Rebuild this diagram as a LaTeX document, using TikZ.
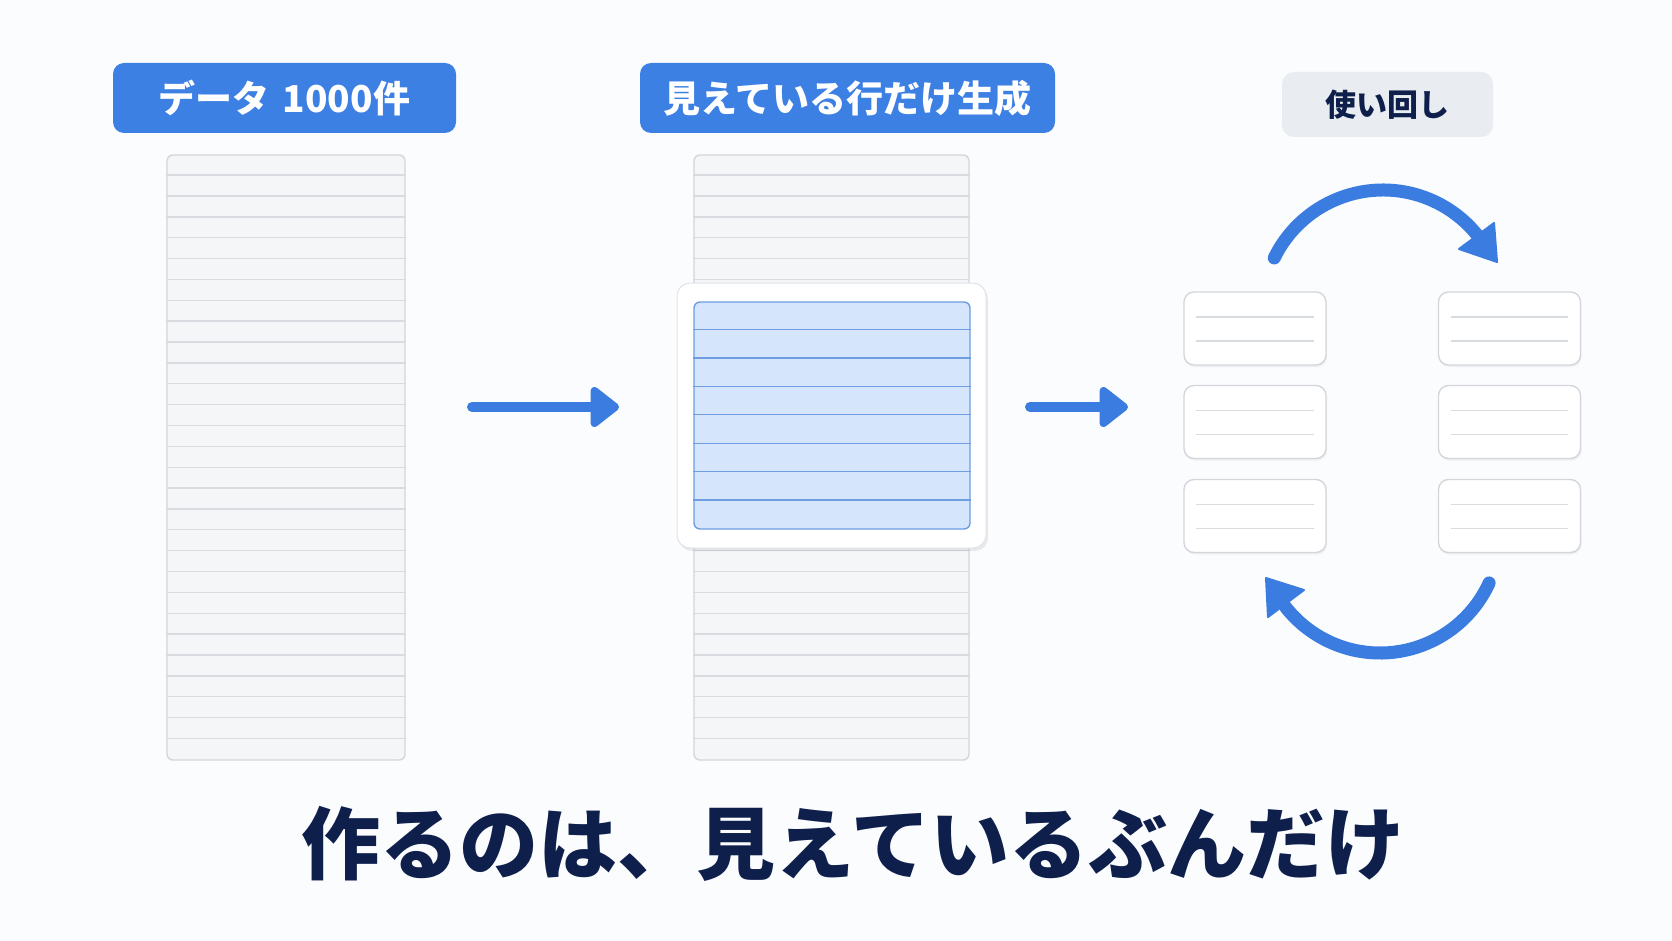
\documentclass[tikz,border=0pt]{standalone}
\usepackage{fontspec}
\setmainfont{Noto Sans CJK JP}
\newfontfamily\titlefont{Noto Sans CJK JP Black}
\usetikzlibrary{arrows.meta,shadows}
\definecolor{bgc}{HTML}{FBFCFD}
\definecolor{labelblue}{HTML}{3D80E4}
\definecolor{arrowblue}{HTML}{3A7CE0}
\definecolor{navy}{HTML}{0E1F4C}
\definecolor{listfill}{HTML}{F5F6F7}
\definecolor{listline}{HTML}{D8DBDF}
\definecolor{cardline}{HTML}{D3D6DB}
\definecolor{vpfill}{HTML}{D5E6FC}
\definecolor{vpline}{HTML}{6E9DE2}
\definecolor{greylabel}{HTML}{E9ECF0}
\tikzset{
  bluelabel/.style={fill=labelblue, rounded corners=11pt, inner sep=0pt, text=white,
    font=\bfseries\fontsize{37}{40}\selectfont, minimum height=70pt},
  greylab/.style={fill=greylabel, rounded corners=12pt, inner sep=0pt, text=navy,
    font=\bfseries\fontsize{31}{34}\selectfont, minimum height=65pt, minimum width=211pt},
  listbox/.style={draw=cardline, line width=1.4pt, fill=listfill, rounded corners=6pt, inner sep=0pt},
  rowline/.style={draw=listline, line width=1.4pt},
  vpcard/.style={draw=cardline!70, line width=1pt, fill=white, rounded corners=13pt, inner sep=0pt,
    drop shadow={shadow xshift=2pt, shadow yshift=-3pt, opacity=0.12, fill=black!60}},
  vpbox/.style={draw=vpline, line width=1.4pt, fill=vpfill, rounded corners=6pt, inner sep=0pt},
  vprow/.style={draw=vpline, line width=1.3pt},
  smallcard/.style={draw=cardline, line width=1.4pt, fill=white, rounded corners=10pt, inner sep=0pt,
    minimum width=142pt, minimum height=73pt,
    drop shadow={shadow xshift=1pt, shadow yshift=-2pt, opacity=0.08, fill=black!60}},
  straightarrow/.style={draw=arrowblue, line width=10pt, line cap=round,
    -{Triangle[length=31pt, width=46pt, round]}},
  curvearrow/.style={draw=arrowblue, line width=13pt, line cap=round},
  curvehead/.style={fill=arrowblue, draw=arrowblue, line width=2pt, line join=round},
}
\begin{document}
\begin{tikzpicture}[x=1pt, y=-1pt]
\useasboundingbox (0,0) rectangle (1672,941);
\fill[bgc] (0,0) rectangle (1672,941);

% labels
\node[bluelabel, minimum width=343pt] (lab1) at (284.5,98) {データ\hspace{0.35em}1000件};
\node[bluelabel, minimum width=415pt] (lab2) at (847.5,98) {見えている行だけ生成};
\node[greylab] (lab3) at (1387.5,104.5) {使い回し};

% left list
\node[listbox, minimum width=238pt, minimum height=605pt] (list1) at (286,457.5) {};
\foreach \i in {1,...,28} {
  \draw[rowline] ([yshift={-\i*20.86pt}]list1.north west) -- ([yshift={-\i*20.86pt}]list1.north east);
}

% middle list
\node[listbox, minimum width=275pt, minimum height=605pt] (list2) at (831.5,457.5) {};
\foreach \i in {1,...,28} {
  \draw[rowline] ([yshift={-\i*20.86pt}]list2.north west) -- ([yshift={-\i*20.86pt}]list2.north east);
}

% viewport
\node[vpcard, minimum width=309pt, minimum height=265pt] (vp) at (831.5,415.5) {};
\node[vpbox, minimum width=276pt, minimum height=227pt] (vpin) at (832,415.5) {};
\foreach \i in {1,...,7} {
  \draw[vprow] ([yshift={-\i*28.375pt}]vpin.north west) -- ([yshift={-\i*28.375pt}]vpin.north east);
}

% straight arrows
\coordinate (a1s) at (472,407);
\coordinate (a1e) at (619,407);
\coordinate (a2s) at (1030,407);
\coordinate (a2e) at (1128,407);
\draw[straightarrow] (a1s) -- (a1e);
\draw[straightarrow] (a2s) -- (a2e);

% small cards
\foreach \r/\y in {1/328.5, 2/422, 3/516} {
  \node[smallcard] (cl\r) at (1255,\y) {};
  \node[smallcard] (cr\r) at (1509.5,\y) {};
  \foreach \c in {cl\r, cr\r} {
    \draw[rowline] ([xshift=13pt, yshift=-25.5pt]\c.north west) -- ([xshift=-13pt, yshift=-25.5pt]\c.north east);
    \draw[rowline] ([xshift=13pt, yshift=-49.5pt]\c.north west) -- ([xshift=-13pt, yshift=-49.5pt]\c.north east);
  }
}

% curved arrows
\coordinate (c1s) at ({1383+121*cos(206)},{311+121*sin(206)});
\draw[curvearrow] (c1s) arc[start angle=206, end angle=322, radius=121] coordinate (c1e);
\coordinate (h1t) at (1497,262);
\coordinate (h1a) at (1494,223);
\coordinate (h1b) at (1459,249);
\draw[curvehead] (h1t) -- (h1a) -- (h1b) -- cycle;
\coordinate (c2s) at ({1380+120*cos(24.6)},{533+120*sin(24.6)});
\draw[curvearrow] (c2s) arc[start angle=24.6, end angle=142, radius=120] coordinate (c2e);
\coordinate (h2t) at (1266,578);
\coordinate (h2a) at (1268,617);
\coordinate (h2b) at (1304,590);
\draw[curvehead] (h2t) -- (h2a) -- (h2b) -- cycle;

% title
\node[text=navy, font=\titlefont\fontsize{79}{86}\selectfont, inner sep=0pt] (title) at (853,844) {作るのは、見えているぶんだけ};
\end{tikzpicture}
\end{document}
